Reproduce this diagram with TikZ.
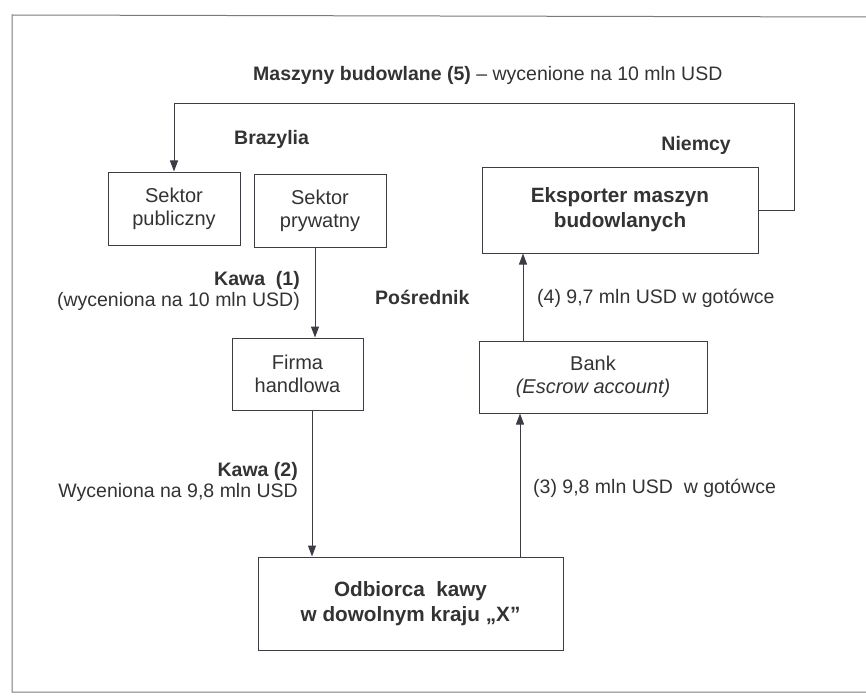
\documentclass[tikz,border=0pt]{standalone}
\usepackage{fontspec}
\setmainfont{Liberation Sans}
\usepackage{tikz}
\usetikzlibrary{arrows.meta}
\usetikzlibrary{positioning}
\definecolor{bt-line}{HTML}{3C3C46}
\definecolor{bt-text}{HTML}{333333}
\definecolor{bt-frame}{HTML}{7A7A7A}

\begin{document}
\begin{tikzpicture}[
    x=1pt, y=-1pt,
    % boxes and labels
    box/.style={draw=bt-line, line width=1pt, inner sep=0pt, align=center, text=bt-text,
      font=\fontsize{20}{23}\selectfont},
    bigbox/.style={box, font=\fontsize{20.7}{25}\selectfont\bfseries},
    lbl/.style={text=bt-text, inner sep=0pt, font=\fontsize{19.5}{21}\selectfont},
    region/.style={lbl, font=\fontsize{19.5}{21}\selectfont\bfseries},
    arr/.style={draw=bt-line, line width=1pt, -{Triangle[length=11pt, width=8pt]}}
  ]
  \useasboundingbox (0,0) rectangle (866,695);

  % frame of the figure
  \draw[bt-frame, line width=1pt] (866,17) -- (12,15) -- (12,692) -- (866,692);

  % =========================================================================
  % BOXES
  % =========================================================================
  \node[box, minimum width=132, minimum height=73] (publiczny) at (174,208.5) {Sektor\\publiczny};
  \node[box, minimum width=132, minimum height=73] (prywatny) at (320,210.5) {Sektor\\prywatny};
  \node[bigbox, minimum width=276, minimum height=86] (eksporter) at (620,210) {Eksporter maszyn\\budowlanych};
  \node[box, minimum width=131, minimum height=72] (firma) at (297.5,374) {Firma\\handlowa};
  \node[box, minimum width=228, minimum height=72] (bank) at (593,377) {Bank\\\textit{(Escrow account)}};
  \node[bigbox, minimum width=305, minimum height=93] (odbiorca) at (410.5,603.5) {Odbiorca\ \ kawy\\w dowolnym kraju ,,X''};

  % =========================================================================
  % REGION LABELS
  % =========================================================================
  \node[region, anchor=west] (maszyny) at (253,75)
    {Maszyny budowlane (5) \mdseries -- wycenione na 10 mln USD};
  \node[region, anchor=west] (brazylia) at (234,139) {Brazylia};
  \node[region, anchor=east] (niemcy) at (731,145) {Niemcy};
  \node[region, anchor=west] (posrednik) at (375,297) {Pośrednik};

  % =========================================================================
  % FLOWS
  % =========================================================================
  \coordinate (loop) at (794,104);
  \coordinate (ax3) at (520,0);
  \coordinate (ax4) at (523,0);
  \draw[arr] (eksporter.east) -| (loop) -| (publiczny.north);
  \draw[arr] ([xshift=-5]prywatny.south) -- ([xshift=-5]prywatny.south |- firma.north);
  \draw[arr] ([xshift=14.5]firma.south) -- ([xshift=14.5]firma.south |- odbiorca.north);
  \draw[arr] (odbiorca.north -| ax3) -- (bank.south -| ax3);
  \draw[arr] (bank.north -| ax4) -- (eksporter.south -| ax4);

  \node[lbl, align=right, anchor=east] (kawa1) at (300,291) {\textbf{Kawa\ \ (1)}\\(wyceniona na 10 mln USD)};
  \node[lbl, align=right, anchor=east] (kawa2) at (298,482) {\textbf{Kawa (2)}\\Wyceniona na 9,8 mln USD};
  \node[lbl, anchor=west] (got4) at (537,298) {(4) 9,7 mln USD w gotówce};
  \node[lbl, anchor=west] (got3) at (533,488) {(3) 9,8 mln USD\ \ w gotówce};

\end{tikzpicture}
\end{document}
